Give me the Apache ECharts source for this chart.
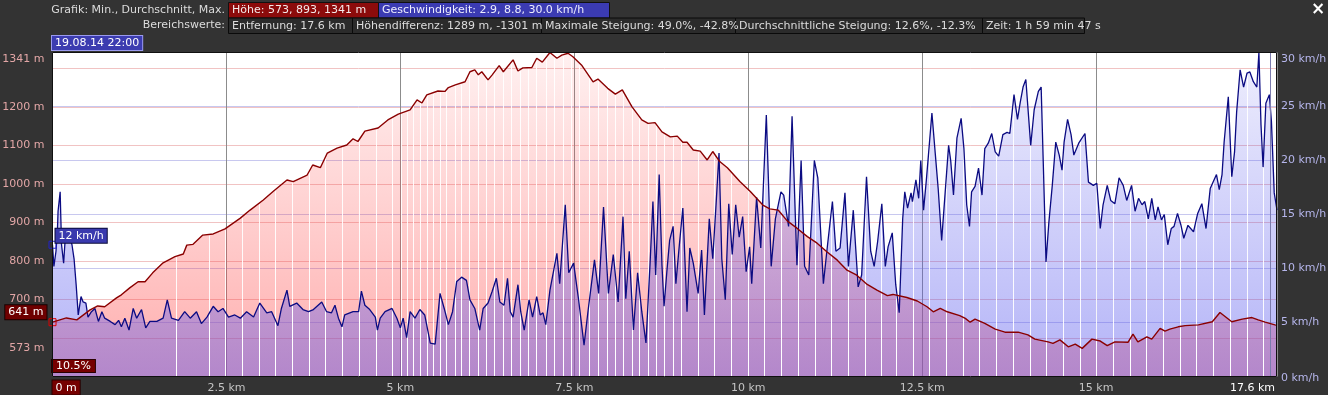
<!DOCTYPE html>
<html><head><meta charset="utf-8">
<script src="https://cdn.jsdelivr.net/npm/echarts@6/dist/echarts.min.js"></script>
<style>html,body{margin:0;padding:0;background:#333333;overflow:hidden}#c{width:1328px;height:395px}</style>
</head><body><div id="c"></div>
<script>
// ---------- DATA ----------
const distKmElev = [
 0.00,0.20,0.35,0.54,0.65,0.75,0.92,0.99,1.11,1.23,
 1.33,1.44,1.59,1.76,1.88,1.93,2.02,2.16,2.31,2.48,
 2.70,2.84,3.03,3.17,3.37,3.46,3.66,3.74,3.85,3.95,
 4.09,4.23,4.32,4.39,4.49,4.68,4.82,4.97,5.14,5.24,
 5.31,5.38,5.54,5.64,5.69,5.79,5.93,6.00,6.07,6.12,
 6.17,6.26,6.32,6.42,6.48,6.62,6.69,6.76,6.89,6.96,
 7.04,7.15,7.25,7.32,7.41,7.48,7.61,7.77,7.84,7.98,
 8.09,8.19,8.33,8.47,8.56,8.66,8.76,8.88,8.98,9.06,
 9.12,9.21,9.31,9.41,9.49,9.59,9.70,9.88,10.03,10.21,
 10.31,10.43,10.56,10.70,10.85,10.99,11.13,11.28,11.42,11.56,
 11.71,11.85,12.00,12.08,12.28,12.43,12.57,12.66,12.76,12.86,
 13.04,13.12,13.19,13.26,13.40,13.55,13.69,13.88,14.02,14.12,
 14.31,14.38,14.48,14.60,14.70,14.80,14.94,15.06,15.16,15.27,
 15.46,15.53,15.60,15.73,15.80,15.92,15.99,16.06,16.18,16.28,
 16.47,16.67,16.78,16.95,17.10,17.24,17.33,17.43,17.57,17.60];
const elevationM = [
 641,652,647,673,683,681,704,712,730,746,
 746,769,795,811,818,841,843,867,870,883,
 911,932,958,980,1010,1006,1023,1049,1042,1080,
 1093,1101,1117,1110,1137,1145,1166,1181,1192,1218,
 1210,1231,1241,1240,1250,1257,1265,1291,1296,1283,
 1291,1270,1283,1307,1291,1322,1293,1301,1302,1326,
 1316,1341,1326,1334,1339,1330,1307,1265,1272,1248,
 1233,1244,1200,1166,1157,1159,1135,1122,1124,1108,
 1108,1088,1085,1062,1084,1058,1042,1006,980,945,
 935,932,904,885,863,846,824,802,776,763,
 739,724,710,713,705,696,681,668,677,668,
 658,651,641,649,638,623,615,615,608,597,
 590,586,595,577,584,573,597,592,580,590,
 589,610,590,603,597,625,618,623,629,632,
 634,642,666,642,649,653,647,641,634,633];
const distKmSpeed = [
 0.00,0.02,0.05,0.07,0.08,0.11,0.12,0.13,0.16,0.18,
 0.23,0.28,0.31,0.34,0.37,0.41,0.44,0.48,0.51,0.56,
 0.61,0.66,0.71,0.75,0.83,0.90,0.95,0.99,1.04,1.10,
 1.16,1.21,1.28,1.34,1.40,1.50,1.59,1.65,1.71,1.81,
 1.90,1.98,2.07,2.14,2.22,2.31,2.38,2.45,2.53,2.62,
 2.70,2.79,2.89,2.98,3.08,3.15,3.24,3.29,3.37,3.41,
 3.51,3.60,3.68,3.75,3.87,3.94,4.01,4.06,4.11,4.16,
 4.20,4.32,4.40,4.44,4.49,4.56,4.64,4.67,4.71,4.78,
 4.88,4.95,5.00,5.04,5.09,5.14,5.21,5.28,5.35,5.43,
 5.50,5.57,5.63,5.69,5.75,5.81,5.88,5.95,6.00,6.07,
 6.14,6.19,6.26,6.32,6.38,6.43,6.49,6.54,6.58,6.62,
 6.69,6.73,6.78,6.85,6.90,6.96,7.01,7.05,7.09,7.15,
 7.25,7.29,7.37,7.42,7.49,7.56,7.64,7.70,7.79,7.85,
 7.92,7.99,8.06,8.13,8.20,8.24,8.29,8.35,8.41,8.47,
 8.53,8.59,8.63,8.67,8.72,8.76,8.79,8.83,8.87,8.92,
 8.96,9.01,9.06,9.12,9.16,9.21,9.28,9.33,9.37,9.44,
 9.49,9.54,9.58,9.62,9.67,9.72,9.77,9.82,9.87,9.92,
 9.97,10.02,10.05,10.12,10.18,10.26,10.33,10.39,10.47,10.51,
 10.58,10.63,10.70,10.76,10.81,10.87,10.95,11.00,11.08,11.14,
 11.21,11.26,11.32,11.39,11.44,11.51,11.58,11.63,11.70,11.76,
 11.81,11.86,11.92,11.97,12.01,12.07,12.12,12.17,12.22,12.25,
 12.29,12.34,12.36,12.41,12.45,12.48,12.52,12.56,12.59,12.64,
 12.69,12.73,12.78,12.83,12.88,12.91,12.95,13.00,13.06,13.10,
 13.14,13.18,13.21,13.26,13.31,13.36,13.40,13.45,13.50,13.55,
 13.60,13.66,13.72,13.76,13.82,13.87,13.91,13.95,13.99,14.06,
 14.11,14.17,14.21,14.24,14.28,14.32,14.37,14.42,14.47,14.51,
 14.54,14.59,14.64,14.68,14.75,14.84,14.89,14.96,15.01,15.06,
 15.10,15.16,15.21,15.27,15.33,15.39,15.44,15.51,15.56,15.61,
 15.66,15.70,15.75,15.80,15.85,15.89,15.94,15.98,16.03,16.08,
 16.12,16.17,16.22,16.26,16.32,16.40,16.46,16.52,16.58,16.64,
 16.73,16.77,16.81,16.84,16.90,16.95,16.99,17.02,17.07,17.12,
 17.17,17.21,17.26,17.31,17.34,17.37,17.40,17.44,17.49,17.52,
 17.56,17.60];
const speedKmh = [
 12.2,10.2,11.6,13.4,15.3,17.1,14.6,12.2,10.5,12.5,
 13.4,12.2,10.9,8.5,5.7,7.4,6.9,6.8,5.5,6.0,
 6.3,5.1,6.0,5.4,5.1,4.8,5.2,4.6,5.4,4.3,
 6.3,5.4,6.2,4.5,5.1,5.1,5.4,7.1,5.4,5.2,
 6.0,5.4,6.0,4.9,5.5,6.5,6.0,6.3,5.5,5.7,
 5.4,6.0,5.5,6.8,5.9,6.0,4.7,6.3,8.0,6.5,
 6.8,6.2,6.0,6.2,6.9,6.0,5.9,6.6,5.4,4.6,
 5.7,6.0,6.0,7.9,6.6,6.2,5.5,4.3,5.4,6.0,
 6.3,5.4,4.5,5.4,3.6,6.0,5.4,6.2,5.7,3.1,
 3.0,7.7,6.3,4.8,6.0,8.8,9.2,8.9,7.1,6.3,
 4.3,6.3,6.8,7.9,9.1,6.9,6.6,9.1,6.0,5.5,
 8.5,6.0,4.3,7.1,5.5,7.4,5.7,5.9,4.8,8.0,
 11.4,8.6,15.9,9.6,10.5,7.2,2.9,6.2,10.8,7.7,
 15.7,7.7,11.3,6.9,14.8,7.2,11.6,4.3,9.6,6.0,
 3.1,10.6,16.2,9.4,18.7,10.3,6.5,9.7,12.6,13.9,
 8.6,12.2,15.6,6.0,11.9,10.5,7.7,11.7,5.7,14.6,
 10.9,16.2,20.7,10.9,7.1,16.0,11.3,15.9,12.9,14.8,
 9.7,12.0,8.6,16.6,11.9,24.2,10.2,14.6,17.1,16.8,
 13.9,24.1,10.3,20.0,10.2,9.4,20.0,18.4,8.6,12.2,
 16.2,11.6,11.9,17.0,10.2,15.4,8.3,9.4,18.5,11.6,
 10.2,12.5,16.0,10.2,12.0,13.3,8.5,5.9,14.6,17.1,
 15.6,17.0,16.2,18.2,16.5,20.0,15.4,18.2,20.5,24.4,
 20.5,17.4,12.6,17.0,21.4,20.0,16.8,22.1,23.9,21.1,
 15.9,13.9,17.1,17.6,19.3,16.8,21.1,21.6,22.5,20.8,
 20.4,22.4,22.6,22.5,26.1,23.8,25.4,26.8,27.5,21.4,
 24.7,26.4,26.8,19.9,10.6,14.2,17.7,21.7,20.5,19.1,
 21.7,23.8,22.4,20.5,21.6,22.5,18.0,17.7,17.9,13.7,
 15.9,17.7,16.3,16.0,18.4,17.7,16.3,17.7,15.3,16.5,
 15.9,16.2,14.6,16.5,14.5,15.7,14.5,15.0,12.2,13.7,
 13.9,15.1,14.0,12.8,14.0,13.4,15.1,16.0,13.7,17.4,
 18.7,17.3,18.7,21.7,25.9,18.5,20.8,24.5,28.4,26.8,
 28.1,28.2,27.3,26.8,30.0,23.3,19.4,25.3,26.1,23.6,
 17.0,15.4];
// distances (km) of the white gaps in the filled profile
const stripeKm = [
 1.78,2.25,2.49,2.73,2.97,3.21,3.45,3.69,3.93,4.17,4.41,4.65,4.89,
 5.02,5.10,5.19,5.29,5.39,5.47,5.57,5.67,5.79,5.88,6.00,6.12,6.24,6.36,6.48,6.60,6.72,6.84,6.96,
 7.10,7.22,7.34,7.46,7.58,7.72,7.85,7.97,8.09,8.20,8.33,8.44,8.56,8.68,8.80,8.92,9.04,
 9.28,9.52,9.76,10.00,10.24,10.48,10.72,10.96,11.20,11.44,11.68,11.92,12.13,12.37,12.61,12.85,
 13.09,13.33,13.57,13.81,14.05,14.29,14.53,14.77,15.01,15.25,15.49,15.73,15.97,16.21,16.45,
 16.69,16.93,17.17,17.40];
const cursorKm = 17.5;
const elevLabelValues = [573, 700, 800, 900, 1000, 1100, 1200, 1341];
const elevAxisMin = 500, elevAxisMax = 1341, elevStep = 100;
const speedAxisMin = 0, speedAxisMax = 30, speedStep = 5;
const distAxisMax = 17.6, distStep = 2.5;
const startGradient = '10.5%';
const timeStamp = '19.08.14 22:00';
const headerRow1Label = 'Grafik: Min., Durchschnitt, Max.';
const headerRow1Boxes = ['Höhe: 573, 893, 1341 m', 'Geschwindigkeit: 2.9, 8.8, 30.0 km/h'];
const headerRow2Label = 'Bereichswerte:';
const headerRow2Boxes = ['Entfernung: 17.6 km', 'Höhendifferenz: 1289 m, -1301 m',
  'Maximale Steigung: 49.0%, -42.8%', 'Durchschnittliche Steigung: 12.6%, -12.3%',
  'Zeit: 1 h 59 min 47 s'];

// ---------- CHART ----------
const FONT = 'DejaVu Sans';
const FONT_CSS = '11px "DejaVu Sans"';
const chart = echarts.init(document.getElementById('c'), null, {renderer: 'canvas'});

function interp(xs, ys, x) {
  if (x <= xs[0]) return ys[0];
  for (let i = 1; i < xs.length; i++) {
    if (x <= xs[i]) { const t = (x - xs[i-1]) / (xs[i] - xs[i-1]); return ys[i-1] + t * (ys[i] - ys[i-1]); }
  }
  return ys[ys.length - 1];
}
const elevPairs = distKmElev.map((d, i) => [d, elevationM[i]]);
const speedPairs = distKmSpeed.map((d, i) => [d, speedKmh[i]]);

const G = echarts.graphic;
const elevFill = new G.LinearGradient(0, 0, 0, 1, [
  {offset: 0, color: 'rgba(255,70,70,0.08)'}, {offset: 1, color: 'rgba(255,60,60,0.42)'}]);
const speedFill = new G.LinearGradient(0, 0, 0, 1, [
  {offset: 0, color: 'rgba(90,90,238,0.10)'}, {offset: 1, color: 'rgba(90,90,238,0.46)'}]);

function stripeRender(xs, ys, base) {
  return function (params, api) {
    const k = api.value(0);
    const v = interp(xs, ys, k);
    const top = api.coord([k, v]);
    const bot = api.coord([k, base]);
    return {type: 'rect', shape: {x: Math.floor(top[0]), y: top[1] + 1, width: 1, height: bot[1] - top[1] - 1},
      style: {fill: 'rgba(255,255,255,0.92)'}};
  };
}

// header graphics
const graphics = [];
function headerRow(label, texts, edges, y0, h, fills, strokes, textFill) {
  graphics.push({type: 'text', x: 225, y: y0 + h / 2, style: {text: label, fill: '#dcdcdc', font: FONT_CSS, align: 'right', verticalAlign: 'middle'}});
  texts.forEach((t, i) => {
    graphics.push({type: 'rect', shape: {x: edges[i] + 0.5, y: y0 + 0.5, width: edges[i+1] - edges[i], height: h},
      style: {fill: fills[i], stroke: strokes[i], lineWidth: 1}});
  });
  texts.forEach((t, i) => {
    graphics.push({type: 'text', x: edges[i] + 4, y: y0 + h / 2 + 0.5, style: {text: t, fill: textFill[i], font: FONT_CSS, align: 'left', verticalAlign: 'middle'}, z: 10});
  });
}
headerRow(headerRow1Label, headerRow1Boxes, [228, 378, 609], 2, 15.5,
  ['#8c0b0b', '#3b3bb2'], ['#111', '#111'], ['#f4eaea', '#eeeeff']);
headerRow(headerRow2Label, headerRow2Boxes, [228, 352, 541, 735, 982, 1084], 17.5, 15.5,
  ['#2b2b2b','#2b2b2b','#2b2b2b','#2b2b2b','#2b2b2b'], ['#0a0a0a','#0a0a0a','#0a0a0a','#0a0a0a','#0a0a0a'],
  ['#dcdcdc','#dcdcdc','#dcdcdc','#dcdcdc','#dcdcdc']);
graphics.push({type: 'text', x: 1318, y: 10, style: {text: '×', fill: '#ffffff', font: 'bold 17px "DejaVu Sans"', align: 'center', verticalAlign: 'middle'}});
graphics.push({type: 'text', x: 52, y: 36, style: {text: timeStamp, fill: '#ffffff', font: FONT_CSS,
  backgroundColor: '#3c3cb0', borderColor: '#9a9aee', borderWidth: 1, padding: [2, 3, 1, 3], align: 'left', verticalAlign: 'top'}});
graphics.push({type: 'text', x: 52, y: 360, z: 20, style: {text: startGradient, fill: '#ffffff', font: FONT_CSS,
  backgroundColor: '#760000', borderColor: '#2a0000', borderWidth: 1, padding: [1, 4, 0, 4], align: 'left', verticalAlign: 'top'}});
graphics.push({type: 'rect', z: 30, silent: true, shape: {x: 52.5, y: 52.5, width: 1224, height: 324},
  style: {fill: 'none', stroke: '#101010', lineWidth: 1}});

const option = {
  animation: false,
  backgroundColor: '#333333',
  textStyle: {fontFamily: FONT},
  grid: {left: 52.5, right: 51, top: 52.5, bottom: 18.5, show: true, backgroundColor: '#ffffff', borderWidth: 0, outerBoundsMode: 'none', containLabel: false},
  xAxis: {
    type: 'value', min: 0, max: distAxisMax, interval: distStep,
    axisLine: {show: false}, axisTick: {show: false},
    splitLine: {show: true, lineStyle: {color: '#8c8c8c', width: 1}},
    axisLabel: {
      color: '#c4c4c4', fontSize: 11, fontFamily: FONT, margin: 4,
      showMinLabel: true, showMaxLabel: true, alignMinLabel: 'left', alignMaxLabel: 'right',
      formatter: v => v === 0 ? '{z|0 m}' : (v === distAxisMax ? '{e|' + v + ' km}' : '{n|' + v + ' km}'),
      rich: {
        z: {color: '#ffffff', backgroundColor: '#760000', borderColor: '#2a0000', borderWidth: 1, padding: [2, 3, 1, 3], fontSize: 11, fontFamily: FONT},
        e: {color: '#ffffff', fontSize: 11, fontFamily: FONT, padding: [2, 2, 0, 0]},
        n: {color: '#c4c4c4', fontSize: 11, fontFamily: FONT, padding: [2, 0, 0, 0]}
      }
    }
  },
  yAxis: [{
    type: 'value', min: elevAxisMin, max: elevAxisMax, interval: elevStep, position: 'left',
    axisLine: {show: false}, axisTick: {show: false},
    splitLine: {show: true, lineStyle: {color: '#f1c3c3', width: 1}},
    axisLabel: {
      customValues: elevLabelValues, color: '#e2a6a6', fontSize: 11, fontFamily: FONT, margin: 8,
      formatter: v => v === elevAxisMax ? '{t|' + v + ' m}' : v + ' m',
      rich: {t: {color: '#e2a6a6', fontSize: 11, fontFamily: FONT, padding: [14, 0, 0, 0]}}
    }
  }, {
    type: 'value', min: speedAxisMin, max: speedAxisMax, interval: speedStep, position: 'right',
    axisLine: {show: false}, axisTick: {show: false},
    splitLine: {show: true, lineStyle: {color: '#c8c8ef', width: 1}},
    axisLabel: {
      color: '#b6b6ec', fontSize: 11, fontFamily: FONT, margin: 4,
      formatter: v => v === speedAxisMax ? '{t|' + v + ' km/h}' : (v === 0 ? '{b|0 km/h}' : v + ' km/h'),
      rich: {t: {color: '#b6b6ec', fontSize: 11, fontFamily: FONT, padding: [14, 0, 0, 0]},
             b: {color: '#b6b6ec', fontSize: 11, fontFamily: FONT, padding: [4, 0, 0, 0]}}
    }
  }],
  graphic: graphics,
  series: [
    {name: 'elevArea', type: 'line', yAxisIndex: 0, data: elevPairs, symbol: 'none', silent: true, z: 1,
      lineStyle: {width: 0, opacity: 0}, areaStyle: {origin: 'start', color: elevFill, opacity: 1}},
    {name: 'speedArea', type: 'line', yAxisIndex: 1, data: speedPairs, symbol: 'none', silent: true, z: 2,
      lineStyle: {width: 0, opacity: 0}, areaStyle: {origin: 'start', color: speedFill, opacity: 1}},
    {name: 'stripesE', type: 'custom', yAxisIndex: 0, z: 3, silent: true,
      data: stripeKm.map(k => [k, elevAxisMin]), renderItem: stripeRender(distKmElev, elevationM, elevAxisMin)},
    {name: 'stripesS', type: 'custom', yAxisIndex: 1, z: 3, silent: true,
      data: stripeKm.map(k => [k, speedAxisMin]), renderItem: stripeRender(distKmSpeed, speedKmh, speedAxisMin)},
    {name: 'Geschwindigkeit', type: 'line', yAxisIndex: 1, data: speedPairs, symbol: 'none', z: 4,
      lineStyle: {color: '#0b0b82', width: 1.3},
      markLine: {silent: true, symbol: 'none', label: {show: false},
        lineStyle: {color: '#7c7cae', type: 'solid', width: 1}, data: [{xAxis: cursorKm}]},
      markPoint: {silent: true, symbol: 'rect', symbolSize: 7,
        itemStyle: {color: 'rgba(0,0,0,0)', borderColor: '#2222cc', borderWidth: 1},
        label: {show: true, position: 'right', distance: 0, offset: [-1, -9], formatter: p => Math.round(p.value) + ' km/h',
          color: '#ffffff', fontSize: 11, fontFamily: FONT, backgroundColor: '#3a3aae', borderColor: '#0a0a3a', borderWidth: 1, padding: [2, 3, 1, 3]},
        data: [{coord: [distKmSpeed[0], speedKmh[0]], value: speedKmh[0]}]}},
    {name: 'Höhe', type: 'line', yAxisIndex: 0, data: elevPairs, symbol: 'none', z: 5,
      lineStyle: {color: '#8a0000', width: 1.4},
      markPoint: {silent: true, symbol: 'rect', symbolSize: 7,
        itemStyle: {color: 'rgba(0,0,0,0)', borderColor: '#e00000', borderWidth: 1},
        label: {show: true, position: 'left', distance: 2, offset: [0, -10], formatter: p => p.value + ' m',
          color: '#ffffff', fontSize: 11, fontFamily: FONT, backgroundColor: '#6e0000', borderColor: '#1a0000', borderWidth: 1, padding: [2, 3, 1, 3]},
        data: [{coord: [distKmElev[0], elevationM[0]], value: elevationM[0]}]}}
  ]
};
chart.setOption(option);
</script>
</body></html>
